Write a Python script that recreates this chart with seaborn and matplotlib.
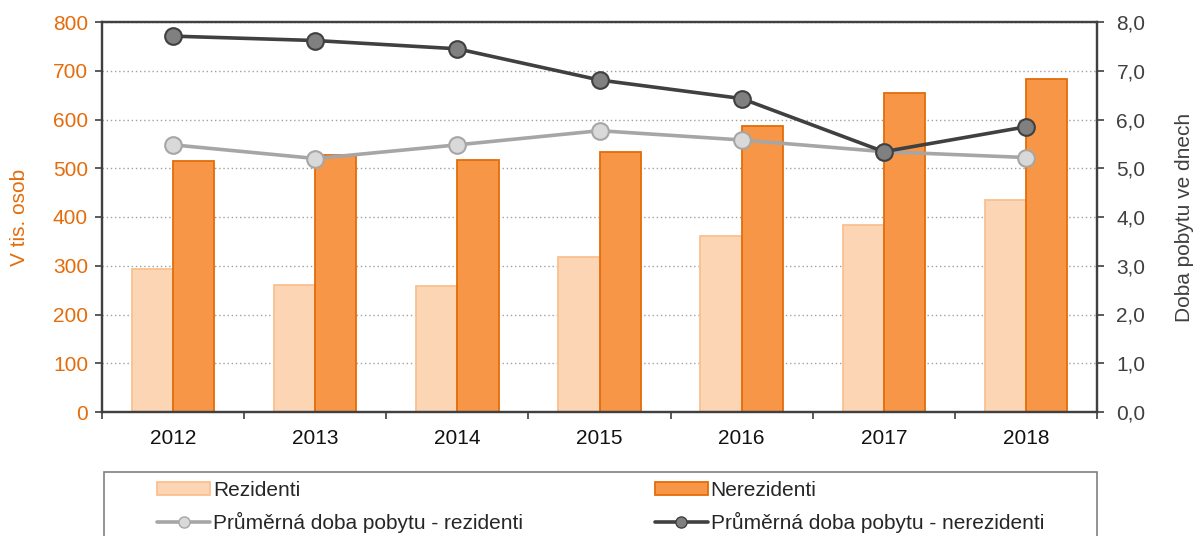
import numpy as np
import pandas as pd
import matplotlib
matplotlib.use("Agg")
import matplotlib.pyplot as plt
from matplotlib.patches import Patch, Rectangle
from matplotlib.lines import Line2D
from matplotlib.ticker import FuncFormatter, MultipleLocator
import seaborn as sns

years = ["2012", "2013", "2014", "2015", "2016", "2017", "2018"]
rezidenti = [294, 261, 258, 317, 362, 383, 435]
nerezidenti = [515, 527, 517, 534, 587, 655, 683]
doba_rez = [5.48, 5.20, 5.48, 5.77, 5.58, 5.34, 5.22]
doba_nerez = [7.71, 7.62, 7.45, 6.81, 6.43, 5.34, 5.85]

lab_rez = "Rezidenti"
lab_nerez = "Nerezidenti"
lab_drez = "Průměrná doba pobytu - rezidenti"
lab_dnerez = "Průměrná doba pobytu - nerezidenti"

sns.set_theme(style="white")
plt.rcParams["font.family"] = ["Liberation Sans", "DejaVu Sans"]

orange = "#E46C0A"
dark = "#404040"
fs = 15

df = pd.DataFrame({
    "rok": years * 2,
    "osoby": rezidenti + nerezidenti,
    "skupina": [lab_rez] * len(years) + [lab_nerez] * len(years),
})

W, H = 1195, 536
fig, ax = plt.subplots(figsize=(W / 100, H / 100), dpi=100)
fig.subplots_adjust(left=102 / W, right=1097 / W, top=1 - 22 / H, bottom=1 - 412 / H)

sns.barplot(data=df, x="rok", y="osoby", hue="skupina", ax=ax,
            palette={lab_rez: "#FCD5B5", lab_nerez: "#F79646"},
            width=0.58, gap=0, saturation=1, legend=False)
edges = ["#FAC090", orange]
for cont, ec in zip(ax.containers, edges):
    for bar in cont:
        bar.set_edgecolor(ec)
        bar.set_linewidth(1.3)

ax.set_xlim(-0.5, 6.5)
ax.set_ylim(0, 800)
ax.yaxis.set_major_locator(MultipleLocator(100))
ax.set_axisbelow(True)
ax.grid(axis="y", color="#A0A0A0", linestyle=(0, (1, 2)), linewidth=1)
ax.set_xlabel("")
ax.set_ylabel("V tis. osob", color=orange, fontsize=fs, labelpad=17)
ax.tick_params(axis="y", labelcolor=orange, color=dark, labelsize=fs, length=5,
               width=1.2, direction="out", left=True, pad=5)
ax.tick_params(axis="x", which="major", length=0, labelsize=fs,
               labelcolor="#111111", pad=12)
ax.set_xticks(np.arange(-0.5, 7, 1), minor=True)
ax.tick_params(axis="x", which="minor", length=5, width=1.2, color=dark,
               direction="out", bottom=True)

for s in ax.spines.values():
    s.set_color(dark)
    s.set_linewidth(1.6)

ax2 = ax.twinx()
xpos = np.arange(len(years))
sns.lineplot(x=xpos, y=doba_rez, ax=ax2, color="#A6A6A6", linewidth=2.6,
             marker="o", markersize=12, markerfacecolor="#D9D9D9",
             markeredgecolor="#A6A6A6", markeredgewidth=1.5)
sns.lineplot(x=xpos, y=doba_nerez, ax=ax2, color=dark, linewidth=2.6,
             marker="o", markersize=12, markerfacecolor="#808080",
             markeredgecolor=dark, markeredgewidth=1.5)
ax2.set_ylim(0, 8)
ax2.set_xlim(-0.5, 6.5)
ax2.yaxis.set_major_locator(MultipleLocator(1))
ax2.yaxis.set_major_formatter(FuncFormatter(lambda v, p: f"{v:.1f}".replace(".", ",")))
ax2.tick_params(axis="y", labelsize=fs, labelcolor=dark, color=dark,
                length=5, width=1.2, direction="out", right=True, pad=9)
ax2.set_ylabel("Doba pobytu ve dnech", color=dark, fontsize=fs, labelpad=21)
ax2.grid(False)
for s in ax2.spines.values():
    s.set_color(dark)
    s.set_linewidth(1.6)

# legend box below the plot
fig.patches.append(Rectangle((104 / W, 1 - 545 / H), 993 / W, 73 / H,
                             transform=fig.transFigure, facecolor="none",
                             edgecolor="#808080", linewidth=1.2))

handles = [
    Patch(facecolor="#FCD5B5", edgecolor="#FAC090", linewidth=1.3),
    Line2D([], [], color="#A6A6A6", linewidth=2.6, marker="o", markersize=8,
           markerfacecolor="#D9D9D9", markeredgecolor="#A6A6A6"),
    Patch(facecolor="#F79646", edgecolor=orange, linewidth=1.3),
    Line2D([], [], color=dark, linewidth=2.6, marker="o", markersize=8,
           markerfacecolor="#808080", markeredgecolor=dark),
]
labels = [lab_rez, lab_drez, lab_nerez, lab_dnerez]
leg = fig.legend(handles, labels, ncol=2, loc="upper left",
                 bbox_to_anchor=(157 / W, 1 - 481 / H),
                 fontsize=fs, frameon=False, handlelength=2.55,
                 handleheight=0.6, handletextpad=0.15, borderpad=0,
                 labelspacing=0.55, columnspacing=6.3, borderaxespad=0)

fig.savefig("out.png", dpi=100)
